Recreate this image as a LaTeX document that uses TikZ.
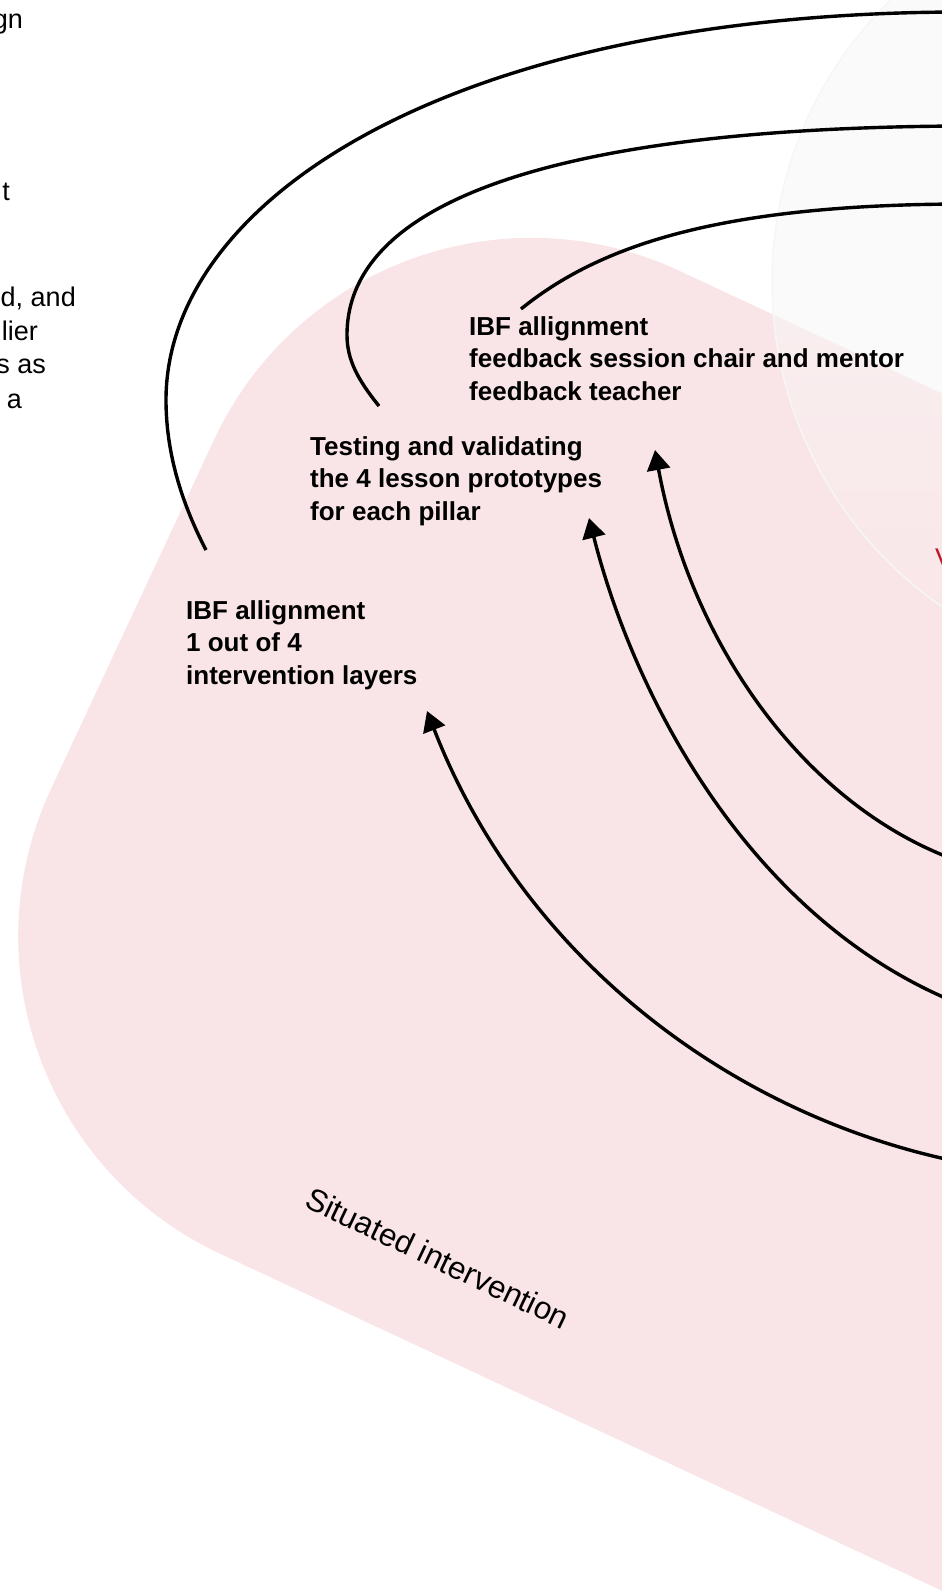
\documentclass[tikz,border=0pt]{standalone}
\usepackage{fontspec}
\setmainfont{Liberation Sans}
\usepackage{xcolor}
\usetikzlibrary{arrows.meta,positioning,calc,fadings}

\definecolor{pinkbg}{HTML}{F9E5E7}
\definecolor{circgray}{HTML}{FAFAFA}
\definecolor{cutred}{HTML}{C0141E}

\tikzfading[name=circup, top color=transparent!100, middle color=transparent!95, bottom color=transparent!0]

\begin{document}
\begin{tikzpicture}[
    x=1pt, y=-1pt,
    lbl/.style={font=\bfseries\fontsize{26}{32.5}\selectfont, align=left, inner sep=0pt, anchor=base west},
    frag/.style={font=\fontsize{27}{34}\selectfont, inner sep=0pt, anchor=base east},
    link/.style={line width=3.4pt},
    arrow/.style={line width=3.4pt, -{Triangle[length=20pt,width=23pt]}},
    blob/.style={rounded corners=350pt}
]
    \useasboundingbox (0,0) rectangle (942,1593);

    \fill[pinkbg, blob] (2101.6,934.9) -- (362.1,122.7) -- (-96.9,1105.7) -- (1642.6,1917.9) -- cycle;
    \fill[circgray] (1167,282) circle[radius=395];
    \begin{scope}
        \clip[blob] (2101.6,934.9) -- (362.1,122.7) -- (-96.9,1105.7) -- (1642.6,1917.9) -- cycle;
        \fill[pinkbg, path fading=circup] (1167,282) circle[radius=395];
    \end{scope}
    \draw[gray!7, line width=1.5pt] (1167,282) circle[radius=395];

    \node[frag] (f1) at (23,28) {gn};
    \node[frag] (f2) at (10,200) {t};
    \node[frag] (f3) at (76,306) {d, and};
    \node[frag] (f4) at (38,340) {lier};
    \node[frag] (f5) at (46,373) {s as};
    \node[frag] (f6) at (22,408) {a};
    \node[frag, anchor=base west, text=cutred] (f7) at (935,567) {V};

    \node[lbl] (lay) at (186,684) {IBF allignment\\1 out of 4\\intervention layers};
    \node[lbl] (proto) at (310,520) {Testing and validating\\the 4 lesson prototypes\\for each pillar};
    \node[lbl] (feed) at (469,400) {IBF allignment\\feedback session chair and mentor\\feedback teacher};
    \node[font=\fontsize{31.5}{36}\selectfont, rotate=-25.5, inner sep=0pt] (situ) at (438,1258) {Situated intervention};

    \coordinate (lay-out) at (206,550);
    \coordinate (lay-in) at (427,711);
    \coordinate (proto-out) at (379,406);
    \coordinate (proto-in) at (589,518);
    \coordinate (feed-out) at (521,309);
    \coordinate (feed-in) at (655,450);
    \coordinate (r1) at (960,12);
    \coordinate (r2) at (960,126);
    \coordinate (r3) at (960,204);
    \coordinate (r4) at (950,858);
    \coordinate (r5) at (950,1000);
    \coordinate (r6) at (950,1160);

    \draw[link] (lay-out) .. controls (180,500) and (166,450) .. (166,400) .. controls (166,200) and (450,13) .. (r1);
    \draw[link] (proto-out) .. controls (358,380) and (347,360) .. (347,335) .. controls (347,200) and (560,128) .. (r2);
    \draw[link] (feed-out) .. controls (600,245) and (720,205) .. (r3);
    \draw[arrow] (r6) .. controls (720,1110) and (520,950) .. (lay-in);
    \draw[arrow] (r5) .. controls (750,915) and (635,700) .. (proto-in);
    \draw[arrow] (r4) .. controls (800,800) and (690,640) .. (feed-in);
\end{tikzpicture}
\end{document}
